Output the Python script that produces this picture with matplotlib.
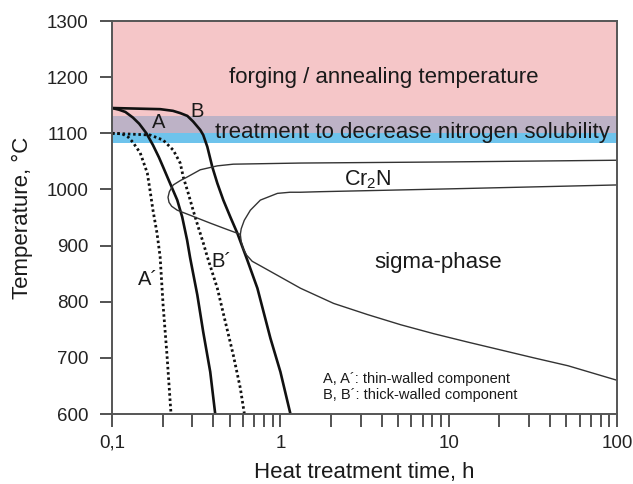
import matplotlib
matplotlib.use('Agg')
import matplotlib.pyplot as plt
from matplotlib.ticker import FixedLocator, NullFormatter

plt.rcParams['font.family'] = ['Liberation Sans', 'DejaVu Sans']
plt.rcParams['mathtext.fontset'] = 'custom'
plt.rcParams['mathtext.rm'] = 'Liberation Sans'

# temperature bands (degC)
band_forging = (1130, 1300)
band_overlap = (1100, 1130)
band_nitrogen = (1083, 1100)

# cooling curves: time (h), temperature (degC)
a_t = [0.1, 0.11, 0.12, 0.133, 0.145, 0.16, 0.175, 0.19, 0.201, 0.221, 0.244, 0.261,
       0.279, 0.291, 0.321, 0.348, 0.383, 0.41]
a_T = [1145, 1142, 1138, 1128, 1117, 1100, 1079, 1057, 1040, 1011, 981, 951,
       910, 878, 812, 746, 675, 600]

b_t = [0.1, 0.193, 0.23, 0.254, 0.28, 0.303, 0.334, 0.348, 0.368, 0.394, 0.422, 0.458,
       0.504, 0.555, 0.636, 0.73, 0.872, 1.0, 1.147]
b_T = [1145, 1143, 1140, 1136, 1131, 1121, 1106, 1097, 1076, 1040, 1011, 981,
       951, 922, 874, 824, 735, 675, 600]

a2_t = [0.1, 0.115, 0.125, 0.133, 0.147, 0.162, 0.168, 0.175, 0.185, 0.193, 0.201, 0.212, 0.224]
a2_T = [1100, 1099, 1093, 1084, 1065, 1029, 999, 963, 922, 880, 794, 705, 600]

b2_t = [0.1, 0.168, 0.201, 0.231, 0.254, 0.265, 0.283, 0.303, 0.325, 0.348, 0.368,
        0.422, 0.471, 0.525, 0.578, 0.611]
b2_T = [1100, 1097, 1088, 1070, 1047, 1022, 994, 963, 933, 905, 880,
        824, 764, 705, 646, 600]

# Cr2N C-curve: upper branch -> nose -> lower branch into sigma nose
cr_t = [100, 10, 1.316, 0.525, 0.422, 0.334, 0.279, 0.255, 0.231, 0.219, 0.215,
        0.218, 0.226, 0.244, 0.303, 0.383, 0.46, 0.578]
cr_T = [1052, 1049, 1047, 1045, 1042, 1035, 1022, 1016, 1008, 996, 986,
        977, 970, 963, 952, 940, 931, 920]

# sigma-phase C-curve: upper branch -> nose -> lower branch
sig_t = [100, 10, 1.73, 1.316, 1.14, 0.96, 0.76, 0.663, 0.61, 0.585, 0.578, 0.585,
         0.6, 0.63, 0.68, 0.76, 0.96, 1.316, 2.07, 3.3, 5.18, 8.15, 13.0, 20.4, 32, 51, 100]
sig_T = [1008, 1001, 996, 995, 995, 993, 981, 963, 945, 930, 920, 907,
         895, 883, 872, 864, 847, 824, 797, 777, 759, 743, 728, 714, 700, 686, 660]

fig = plt.figure(figsize=(6.33, 4.84), dpi=100)
ax = fig.add_axes([0.177, 0.1446, 0.798, 0.812])

ax.axhspan(*band_forging, color='#F5C6C8', lw=0, zorder=0)
ax.axhspan(*band_overlap, color='#BDB2C6', lw=0, zorder=0)
ax.axhspan(*band_nitrogen, color='#6EC3EC', lw=0, zorder=0)

ax.plot(a_t, a_T, color='#111111', lw=1.9, solid_joinstyle='round')
ax.plot(b_t, b_T, color='#111111', lw=1.9, solid_joinstyle='round')
ax.plot(a2_t, a2_T, color='#111111', lw=2.0, linestyle=(0, (0.9, 1.0)))
ax.plot(b2_t, b2_T, color='#111111', lw=2.0, linestyle=(0, (0.9, 1.0)))
ax.plot(cr_t, cr_T, color='#333333', lw=1.0, solid_joinstyle='round')
ax.plot(sig_t, sig_T, color='#333333', lw=1.0, solid_joinstyle='round')

ax.set_xscale('log')
ax.set_xlim(0.1, 100)
ax.set_ylim(600, 1300)

# labels inside the plot
txt = dict(color='#1a1a1a', ha='center')
ax.text(4.1, 1190, 'forging / annealing temperature', fontsize=16, va='baseline', **txt)
ax.text(6.07, 1091, 'treatment to decrease nitrogen solubility', fontsize=16, va='baseline', **txt)
ax.text(0.188, 1120, 'A', fontsize=14.5, va='center', **txt)
ax.text(0.32, 1138, 'B', fontsize=14.5, va='center', **txt)
ax.text(0.164, 839, 'A\u00b4', fontsize=14.5, va='center', **txt)
ax.text(0.445, 872, 'B\u00b4', fontsize=14.5, va='center', **txt)
ax.text(3.3, 1017, r'Cr$_\mathrm{2}$N', fontsize=15.5, va='center', **txt)
ax.text(8.6, 869, 'sigma-phase', fontsize=16, va='center', **txt)
ax.text(1.78, 662, 'A, A\u00b4: thin-walled component', fontsize=10.5,
        color='#1a1a1a', ha='left', va='center')
ax.text(1.78, 634, 'B, B\u00b4: thick-walled component', fontsize=10.5,
        color='#1a1a1a', ha='left', va='center')

# axes / ticks
ax.xaxis.set_major_locator(FixedLocator([0.1, 1, 10, 100]))
ax.set_xticklabels(['0,1', '1', '10', '100'])
minors = [m * d for d in [0.1, 1, 10] for m in range(2, 10)]
ax.xaxis.set_minor_locator(FixedLocator(minors))
ax.xaxis.set_minor_formatter(NullFormatter())
ax.set_yticks(range(600, 1301, 100))

ax.tick_params(axis='both', which='both', direction='out', length=9, width=1.3,
               color='#444444', labelsize=13.5, labelcolor='#222222')
ax.tick_params(axis='x', which='both', pad=6, top=False)
ax.tick_params(axis='y', which='both', pad=8, right=False)

for s in ax.spines.values():
    s.set_color('#555555')
    s.set_linewidth(1.4)

ax.set_xlabel('Heat treatment time, h', fontsize=16, color='#1a1a1a', labelpad=7)
ax.set_ylabel('Temperature, \u00b0C', fontsize=16, color='#1a1a1a', labelpad=10)

fig.savefig('out.png', dpi=100)
